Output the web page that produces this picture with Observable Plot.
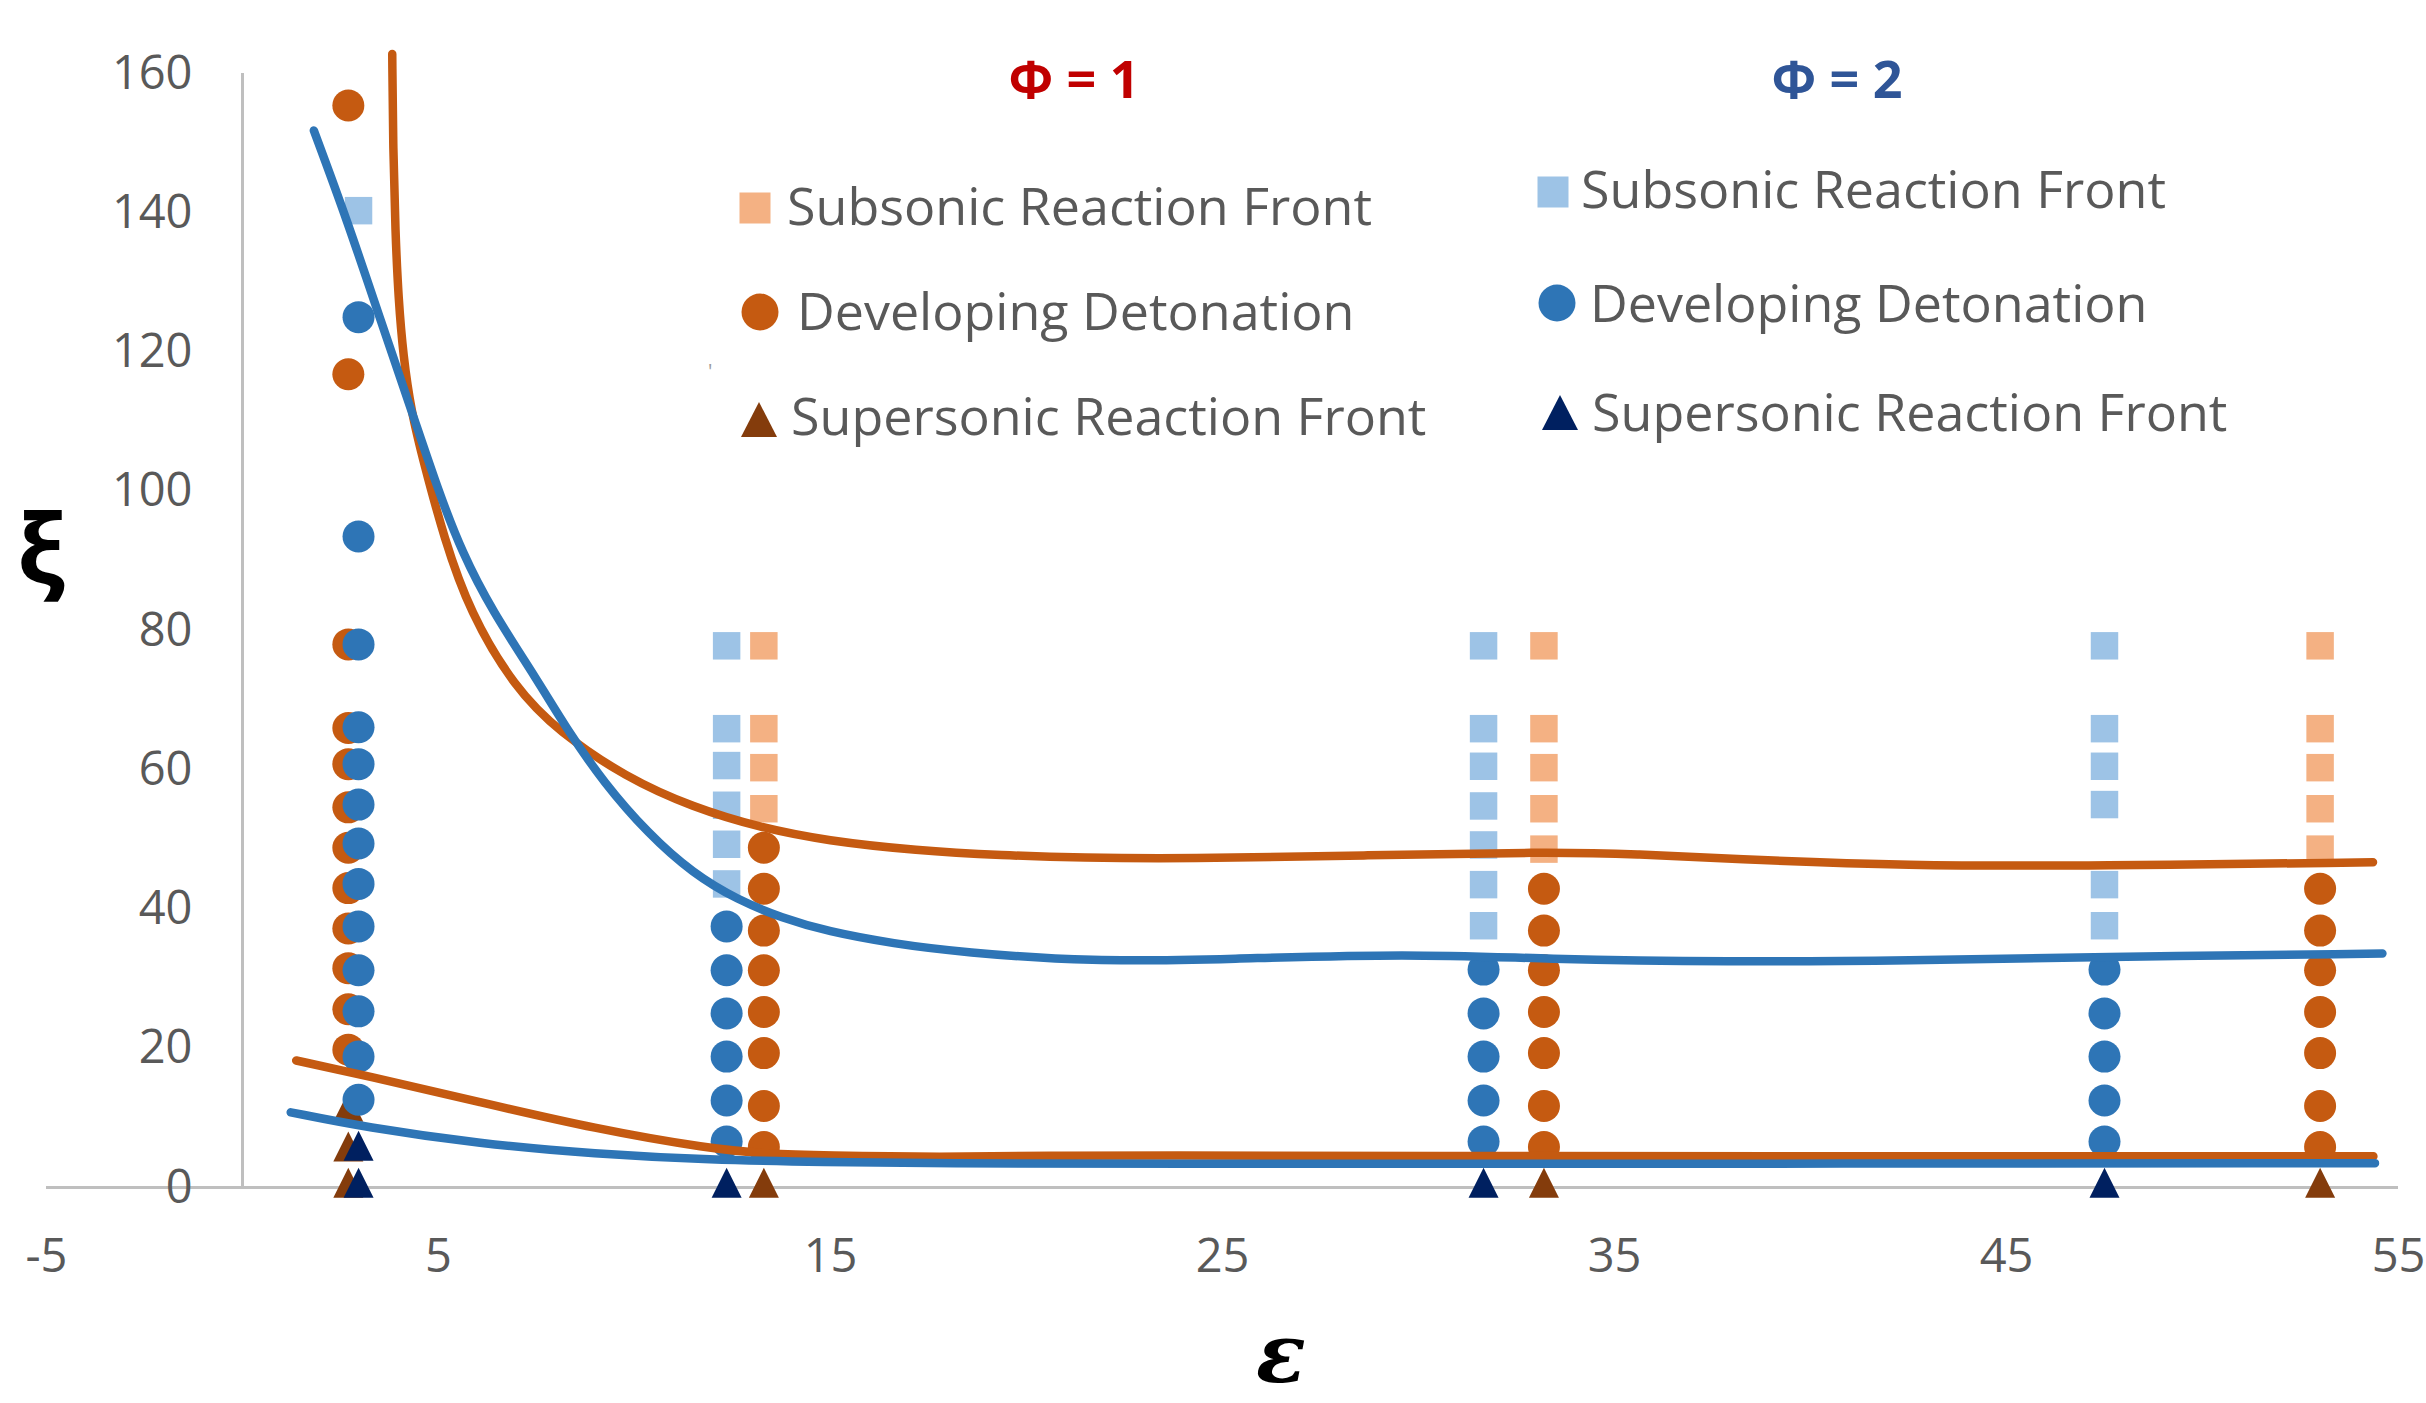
<!DOCTYPE html>
<html>
<head>
<meta charset="utf-8">
<script src="https://cdn.jsdelivr.net/npm/d3@7"></script>
<script src="https://cdn.jsdelivr.net/npm/@observablehq/plot@0.6"></script>
<style>
  html, body { margin: 0; padding: 0; background: #fff; }
  #wrap { position: relative; width: 2426px; height: 1403px; overflow: hidden; }
  #wrap svg { position: absolute; left: 0; top: 0; }
</style>
</head>
<body>
<div id="wrap"></div>
<script>
// ε columns sampled for each equivalence ratio
const phi1Eps = [2.7, 13.3, 33.2, 53.0];
const phi2Eps = [2.96, 12.35, 31.66, 47.5];

// ξ values per ε column (same order as the ε arrays), one array per regime
const phi1Subsonic = [
  [],
  [77.8, 65.9, 60.3, 54.4],
  [77.8, 65.9, 60.3, 54.4, 48.6],
  [77.8, 65.9, 60.3, 54.4, 48.6]
];
const phi1Developing = [
  [155.4, 116.8, 78.0, 66.0, 60.8, 54.6, 48.8, 43.0, 37.2, 31.5, 25.6, 19.8],
  [48.8, 42.9, 36.9, 31.2, 25.2, 19.3, 11.7, 5.8],
  [42.9, 36.9, 31.2, 25.2, 19.3, 11.7, 5.8],
  [42.9, 36.9, 31.2, 25.2, 19.3, 11.7, 5.8]
];
const phi1Supersonic = [
  [11.6, 5.9, 0.7],
  [0.7],
  [0.7],
  [0.7]
];
const phi2Subsonic = [
  [140.3],
  [77.8, 65.9, 60.6, 54.9, 49.3, 43.6],
  [77.8, 65.9, 60.5, 54.8, 49.2, 43.5, 37.6],
  [77.8, 65.9, 60.5, 55.0, 43.5, 37.6]
];
const phi2Developing = [
  [125.0, 93.5, 78.0, 66.1, 60.8, 55.0, 49.4, 43.6, 37.5, 31.2, 25.3, 18.8, 12.6],
  [37.5, 31.2, 25.0, 18.8, 12.5, 6.6],
  [31.3, 25.0, 18.8, 12.5, 6.6],
  [31.3, 25.0, 18.8, 12.5, 6.6]
];
const phi2Supersonic = [
  [6.0, 0.7],
  [0.7],
  [0.7],
  [0.7]
];

// regime boundaries [ε, ξ]
const phi1UpperBoundary = [
  [3.82, 162.8], [3.84, 150.0], [3.9, 137.0], [3.98, 127.5], [4.1, 119.5],
  [4.3, 111.5], [4.63, 104.0], [5.14, 93.3], [5.8, 82.6], [6.94, 71.8],
  [8.08, 65.4], [9.78, 58.9], [11.49, 54.6], [13.2, 51.7], [14.9, 49.8],
  [17.19, 48.4], [19.4, 47.7], [21.4, 47.35], [24.0, 47.2], [28.6, 47.7],
  [33.25, 48.2], [35.6, 47.9], [37.9, 47.2], [42.5, 46.2], [47.2, 46.2],
  [54.35, 46.7]
];
const phi2UpperBoundary = [
  [1.82, 151.8], [2.67, 138.9], [3.52, 124.6], [4.37, 110.6], [5.0, 100.0],
  [5.6, 91.2], [6.37, 82.8], [7.51, 73.0], [8.3, 65.6], [9.21, 58.2],
  [10.35, 50.8], [11.49, 45.1], [12.63, 41.3], [13.77, 38.7], [14.91, 36.8],
  [16.62, 35.0], [18.33, 33.8], [21.66, 32.4], [25.14, 32.8], [29.77, 33.6],
  [33.25, 32.8], [37.89, 32.4], [42.53, 32.6], [47.17, 33.1], [54.59, 33.6]
];
const phi1LowerBoundary = [
  [1.37, 18.24], [3.13, 16.1], [6.06, 12.25], [8.99, 8.43], [11.92, 5.56],
  [13.38, 4.84], [14.85, 4.6], [17.78, 4.35], [20.71, 4.6], [23.16, 4.6],
  [30, 4.5], [40, 4.5], [54.36, 4.5]
];
const phi2LowerBoundary = [
  [1.23, 10.8], [3.13, 8.66], [6.06, 6.27], [8.99, 4.84], [11.92, 3.97],
  [14.85, 3.64], [17.78, 3.45], [23.16, 3.4], [35, 3.4], [54.4, 3.5]
];

const xTicks = [-5, 5, 15, 25, 35, 45, 55];
const yTicks = [0, 20, 40, 60, 80, 100, 120, 140, 160];

const regimeLabels = ["Subsonic Reaction Front", "Developing Detonation", "Supersonic Reaction Front"];
const phiLabels = ["Φ = 1", "Φ = 2"];

const colors = {
  phi1: {sub: "#F4B183", dev: "#C55A11", sup: "#843C0C", line: "#C55A11", title: "#C00000"},
  phi2: {sub: "#9DC3E6", dev: "#2E75B6", sup: "#002060", line: "#2E75B6", title: "#2F5597"}
};

const font = "'Open Sans', 'Noto Sans', sans-serif";

// expand column arrays into {eps, xi} points
const points = (epsList, cols) => cols.flatMap((col, i) => col.map(xi => ({eps: epsList[i], xi})));

// upward triangle whose bounding box is centred on the point
const triangleUp = {
  draw(context, size) {
    const h = Math.sqrt(size / Math.PI) * 1.2;
    context.moveTo(0, -h);
    context.lineTo(h, h);
    context.lineTo(-h, h);
    context.closePath();
  }
};

const dotOpts = (symbol, r, fill) => ({x: "eps", y: "xi", symbol, r, fill, stroke: "none"});
const lineOpts = stroke => ({x: d => d[0], y: d => d[1], stroke, strokeWidth: 8.5, curve: "basis"});

const chart = Plot.plot({
  width: 2426,
  height: 1403,
  marginLeft: 46,
  marginRight: 28,
  marginTop: 73,
  marginBottom: 216,
  x: {domain: [-5, 55], axis: null},
  y: {domain: [0, 160], axis: null},
  style: {background: "transparent", fontFamily: font, overflow: "visible"},
  marks: [
    Plot.ruleY([0], {stroke: "#BFBFBF", strokeWidth: 3}),
    Plot.ruleX([0], {y1: 0, y2: 160, stroke: "#BFBFBF", strokeWidth: 3}),
    Plot.text(yTicks, {x: () => 0, y: d => d, text: d => String(d), textAnchor: "end", dx: -50, fontSize: 47, fill: "#595959"}),
    Plot.text(xTicks, {x: d => d, y: () => 0, text: d => String(d), dy: 69, lineAnchor: "middle", fontSize: 47, fill: "#595959"}),

    Plot.dot(points(phi1Eps, phi1Subsonic), dotOpts("square", 15.5, colors.phi1.sub)),
    Plot.dot(points(phi1Eps, phi1Developing), dotOpts("circle", 16, colors.phi1.dev)),
    Plot.dot(points(phi1Eps, phi1Supersonic), dotOpts(triangleUp, 12.5, colors.phi1.sup)),
    Plot.dot(points(phi2Eps, phi2Subsonic), dotOpts("square", 15.5, colors.phi2.sub)),
    Plot.dot(points(phi2Eps, phi2Developing), dotOpts("circle", 16, colors.phi2.dev)),
    Plot.dot(points(phi2Eps, phi2Supersonic), dotOpts(triangleUp, 12.5, colors.phi2.sup)),

    Plot.line(phi1UpperBoundary, lineOpts(colors.phi1.line)),
    Plot.line(phi1LowerBoundary, lineOpts(colors.phi1.line)),
    Plot.line(phi2UpperBoundary, lineOpts(colors.phi2.line)),
    Plot.line(phi2LowerBoundary, lineOpts(colors.phi2.line))
  ]
});

const wrap = document.getElementById("wrap");
wrap.appendChild(chart);

// legend, axis titles
const over = d3.select(wrap).append("svg")
  .attr("width", 2426).attr("height", 1403)
  .style("font-family", font)
  .style("pointer-events", "none");

over.append("text").attr("x", 41).attr("y", 584).attr("text-anchor", "middle")
  .attr("font-size", 96).attr("font-weight", 700).attr("fill", "#000").text("ξ");
over.append("text").attr("x", 1281).attr("y", 1382).attr("text-anchor", "middle")
  .attr("font-family", "'DejaVu Serif', serif").attr("font-style", "italic")
  .attr("font-size", 82).attr("font-weight", 700).attr("fill", "#000").text("ε");

const legendCols = [
  {title: phiLabels[0], titleX: 1074, c: colors.phi1,
   rows: [{mx: 755, my: 208, tx: 787, ty: 225}, {mx: 760, my: 312, tx: 797, ty: 330}, {mx: 759, my: 420, tx: 791, ty: 435}]},
  {title: phiLabels[1], titleX: 1837, c: colors.phi2,
   rows: [{mx: 1553, my: 192, tx: 1581, ty: 208}, {mx: 1557, my: 303, tx: 1590, ty: 322}, {mx: 1560, my: 413, tx: 1592, ty: 431}]}
];

for (const col of legendCols) {
  over.append("text").attr("x", col.titleX).attr("y", 98).attr("text-anchor", "middle")
    .attr("font-size", 52).attr("font-weight", 700).attr("fill", col.c.title).text(col.title);
  const [sq, ci, tr] = col.rows;
  over.append("rect").attr("x", sq.mx - 15.5).attr("y", sq.my - 15.5).attr("width", 31).attr("height", 31).attr("fill", col.c.sub);
  over.append("circle").attr("cx", ci.mx).attr("cy", ci.my).attr("r", 18.5).attr("fill", col.c.dev);
  over.append("path").attr("d", `M${tr.mx},${tr.my - 18}L${tr.mx + 18},${tr.my + 17}L${tr.mx - 18},${tr.my + 17}Z`).attr("fill", col.c.sup);
  col.rows.forEach((r, i) => {
    over.append("text").attr("x", r.tx).attr("y", r.ty).attr("font-size", 52).attr("fill", "#595959").text(regimeLabels[i]);
  });
}

over.append("text").attr("x", 708).attr("y", 378).attr("font-size", 20).attr("fill", "#9a9a9a").text("'");
</script>
</body>
</html>
